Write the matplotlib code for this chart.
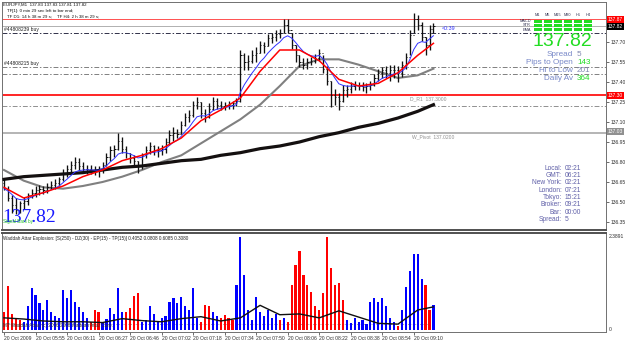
import numpy as np
import pandas as pd
import matplotlib
matplotlib.use("Agg")
import matplotlib.pyplot as plt
from matplotlib.patches import Rectangle

plt.rcParams['font.family'] = ['Liberation Sans', 'DejaVu Sans']

# EURJPY M1 bars (one entry ~ every 2 minutes)
high = [136.68, 136.62, 136.55, 136.53, 136.51, 136.54, 136.57, 136.60, 136.62, 136.63,
        136.62, 136.64, 136.66, 136.67, 136.69, 136.75, 136.78, 136.81, 136.84, 136.83,
        136.80, 136.78, 136.78, 136.77, 136.77, 136.80, 136.87, 136.92, 136.93, 137.02,
        136.99, 136.92, 136.87, 136.85, 136.81, 136.87, 136.92, 136.95, 136.93, 136.92,
        136.93, 136.98, 137.04, 137.06, 137.05, 137.11, 137.17, 137.19, 137.26, 137.29,
        137.25, 137.20, 137.24, 137.29, 137.28, 137.26, 137.25, 137.26, 137.26, 137.28,
        137.64, 137.62, 137.60, 137.64, 137.66, 137.71, 137.70, 137.76, 137.77, 137.79,
        137.80, 137.87, 137.87, 137.77, 137.68, 137.60, 137.58, 137.58, 137.59, 137.61,
        137.65, 137.60, 137.52, 137.41, 137.35, 137.32, 137.38, 137.38, 137.40, 137.41,
        137.40, 137.40, 137.39, 137.41, 137.46, 137.50, 137.51, 137.52, 137.53, 137.53,
        137.52, 137.56, 137.62, 137.79, 137.92, 137.90, 137.85, 137.74, 137.83, 137.84]
low = [136.59, 136.51, 136.42, 136.41, 136.42, 136.45, 136.48, 136.53, 136.54, 136.55,
       136.56, 136.57, 136.60, 136.60, 136.62, 136.66, 136.69, 136.72, 136.75, 136.74,
       136.72, 136.71, 136.71, 136.70, 136.69, 136.72, 136.77, 136.81, 136.84, 136.89,
       136.87, 136.83, 136.79, 136.77, 136.72, 136.75, 136.83, 136.86, 136.85, 136.84,
       136.85, 136.87, 136.93, 136.96, 136.98, 137.01, 137.07, 137.10, 137.14, 137.20,
       137.13, 137.10, 137.13, 137.19, 137.20, 137.19, 137.19, 137.20, 137.20, 137.22,
       137.25, 137.49, 137.49, 137.54, 137.55, 137.62, 137.62, 137.67, 137.69, 137.71,
       137.73, 137.77, 137.77, 137.65, 137.55, 137.51, 137.50, 137.50, 137.53, 137.54,
       137.56, 137.47, 137.38, 137.21, 137.23, 137.19, 137.25, 137.29, 137.32, 137.34,
       137.34, 137.33, 137.32, 137.34, 137.37, 137.41, 137.43, 137.43, 137.41, 137.43,
       137.40, 137.44, 137.50, 137.60, 137.77, 137.79, 137.71, 137.60, 137.64, 137.77]
close = [136.60, 136.53, 136.48, 136.44, 136.49, 136.51, 136.55, 136.57, 136.59, 136.60,
         136.59, 136.61, 136.63, 136.64, 136.67, 136.72, 136.75, 136.78, 136.80, 136.77,
         136.75, 136.75, 136.74, 136.73, 136.74, 136.78, 136.84, 136.89, 136.90, 136.96,
         136.90, 136.87, 136.83, 136.81, 136.78, 136.85, 136.89, 136.92, 136.89, 136.89,
         136.90, 136.95, 137.00, 137.02, 137.01, 137.08, 137.14, 137.15, 137.23, 137.25,
         137.17, 137.14, 137.20, 137.26, 137.23, 137.22, 137.23, 137.23, 137.24, 137.26,
         137.60, 137.55, 137.56, 137.60, 137.62, 137.68, 137.67, 137.73, 137.74, 137.76,
         137.77, 137.83, 137.79, 137.68, 137.60, 137.55, 137.53, 137.55, 137.56, 137.58,
         137.62, 137.50, 137.41, 137.30, 137.29, 137.26, 137.34, 137.35, 137.37, 137.38,
         137.37, 137.36, 137.37, 137.38, 137.43, 137.47, 137.49, 137.47, 137.49, 137.49,
         137.47, 137.53, 137.59, 137.75, 137.87, 137.83, 137.74, 137.68, 137.80, 137.82]

# moving averages, read every 5 bars
ma_idx = [0, 5, 10, 15, 20, 25, 30, 35, 40, 45, 50, 55, 60, 65, 70, 75, 80, 85, 90, 95, 100, 105, 109]
red_ma = [136.61, 136.53, 136.57, 136.62, 136.69, 136.74, 136.81, 136.85, 136.90, 136.98, 137.11, 137.19,
          137.28, 137.48, 137.64, 137.64, 137.56, 137.42, 137.37, 137.39, 137.47, 137.60, 137.69]
grey_ma = [136.74, 136.66, 136.61, 136.60, 136.62, 136.65, 136.69, 136.74, 136.80, 136.85, 136.94, 137.03,
           137.12, 137.23, 137.37, 137.52, 137.57, 137.57, 137.53, 137.48, 137.43, 137.45, 137.50]
black_ma = [136.67, 136.69, 136.70, 136.71, 136.72, 136.74, 136.76, 136.77, 136.79, 136.81, 136.82, 136.85,
            136.87, 136.90, 136.92, 136.95, 136.99, 137.02, 137.06, 137.09, 137.13, 137.18, 137.23]

# Waddah Attar Explosion histogram (1 = up/blue, 0 = down/red)
wae = [0.45, 1.12, 0.41, 0.30, 0.25, 0.20, 0.60, 1.07, 0.88, 0.67, 0.50, 0.75, 0.45, 0.35, 0.30, 1.01,
       0.80, 1.01, 0.70, 0.58, 0.45, 0.30, 0.20, 0.50, 0.45, 0.20, 0.28, 0.55, 0.40, 1.07, 0.45, 0.45,
       0.55, 0.85, 0.93, 0.20, 0.25, 0.60, 0.41, 0.20, 0.30, 0.35, 0.70, 0.80, 0.67, 0.84, 0.60, 0.50,
       1.07, 0.30, 0.20, 0.63, 0.60, 0.45, 0.35, 0.30, 0.37, 0.30, 0.25, 1.14, 2.36, 1.40, 0.50, 0.25,
       0.84, 0.45, 0.35, 0.50, 0.30, 0.41, 0.25, 0.30, 0.20, 1.14, 1.66, 2.00, 1.40, 1.14, 0.97, 0.60,
       0.50, 0.93, 2.36, 1.57, 1.14, 1.20, 0.75, 0.25, 0.17, 0.30, 0.20, 0.25, 0.15, 0.70, 0.80, 0.71,
       0.80, 0.60, 0.30, 0.20, 0.10, 0.50, 1.10, 1.50, 1.92, 1.92, 1.30, 1.14, 0.50, 0.63]
trend = [0, 0, 0, 0, 0, 1, 1, 1, 1, 1, 1, 1, 1, 1, 1, 1, 1, 1, 1, 1, 1, 1, 0, 0, 0, 1, 1, 1, 1, 1, 1, 0,
         0, 0, 0, 1, 1, 1, 1, 1, 1, 1, 1, 1, 1, 1, 1, 1, 1, 1, 0, 0, 0, 1, 1, 0, 0, 0, 0, 1, 1, 1, 1, 1,
         1, 1, 1, 1, 1, 1, 0, 1, 0, 0, 0, 0, 0, 0, 0, 0, 0, 0, 0, 0, 0, 0, 0, 1, 1, 1, 1, 1, 1, 1, 1, 1,
         1, 1, 1, 1, 0, 1, 1, 1, 1, 1, 1, 0, 0, 1]
signal = [0.30, 0.27, 0.22, 0.20, 0.20, 0.18, 0.28, 0.23, 0.20, 0.28, 0.33, 0.22, 0.30, 0.62, 0.38, 0.40,
          0.30, 0.48, 0.32, 0.16, 0.14, 0.50, 0.58]
dead_zone = 0.15
wae_max = 2.3891

time_labels = ["20 Oct 2009", "20 Oct 05:55", "20 Oct 06:11", "20 Oct 06:27", "20 Oct 06:46",
               "20 Oct 07:02", "20 Oct 07:18", "20 Oct 07:34", "20 Oct 07:50", "20 Oct 08:06",
               "20 Oct 08:22", "20 Oct 08:38", "20 Oct 08:54", "20 Oct 09:10"]
price_ticks = [136.35, 136.50, 136.65, 136.80, 136.95, 137.10, 137.25, 137.40, 137.55, 137.70]

W, H = 625, 341


def px_box(l, t, r, b):
    return [l / W, 1 - b / H, (r - l) / W, (b - t) / H]


fig = plt.figure(figsize=(W / 100, H / 100), dpi=100, facecolor='white')
ax = fig.add_axes(px_box(2, 2, 606, 230))
ax2 = fig.add_axes(px_box(2, 233, 606, 332), sharex=ax)

n = len(close)
idx = np.arange(n)
opn = np.r_[136.64, close[:-1]]

# price bars
ax.vlines(idx, low, high, colors='#101010', lw=0.95, zorder=5)
ax.hlines(opn, idx - 0.3, idx, colors='#101010', lw=0.7, zorder=5)
ax.hlines(close, idx, idx + 0.3, colors='#101010', lw=0.7, zorder=5)

blue_ma = pd.Series(close).ewm(span=7, adjust=False).mean()
ax.plot(idx, blue_ma, color='#3030ff', lw=0.7, zorder=6)
ax.plot(ma_idx, red_ma, color='#ff0000', lw=1.1, zorder=6)
ax.plot(ma_idx, grey_ma, color='#808080', lw=1.5, zorder=4)
ax.plot(ma_idx, black_ma, color='#141010', lw=2.3, zorder=4)

dd = (0, (5, 2, 1.5, 2))
ax.axhline(137.87, color='#ff5050', lw=0.7, zorder=2)
ax.axhline(137.82, color='#b0b0b0', lw=0.7, zorder=2)
ax.axhline(137.77, color='#303048', lw=0.7, ls=dd, zorder=2)
ax.axhline(137.515, color='#808080', lw=0.7, ls=dd, zorder=2)
ax.axhline(137.46, color='#808080', lw=0.7, ls=dd, zorder=2)
ax.axhline(137.30, color='#ff0000', lw=1.2, zorder=2)
ax.axhline(137.22, color='#909090', lw=0.7, ls=dd, zorder=2)
ax.axhline(137.02, color='#a8a8a8', lw=1.2, zorder=2)

ax.set_xlim(-0.51, 152.8)
ax.set_ylim(136.29, 138.00)
ax.yaxis.tick_right()
ax.set_yticks(price_ticks)
ax.set_yticklabels([f"{p:.2f}" for p in price_ticks])
ax.tick_params(axis='y', length=2, width=0.5, pad=1, labelsize=3.6, colors='#303030')
ax.tick_params(axis='x', bottom=False, labelbottom=False)

box_labels = [(137.87, '#ff0000'), (137.82, '#000000'), (137.30, '#ff0000'), (137.03, '#909090')]
for p, c in box_labels:
    ax.text(1.003, p, f"{p:.2f}", transform=ax.get_yaxis_transform(), fontsize=3.6,
            color='white', va='center', ha='left',
            bbox=dict(boxstyle='square,pad=0.2', fc=c, ec='none'))

ax.text(103, 137.29, "D_R1  137.3000", fontsize=3.6, color='#909090', va='top')
ax.text(103.5, 137.01, "W_Pivot  137.0200", fontsize=3.6, color='#909090', va='top')
ax.text(111, 137.80, "<0:39", fontsize=3.8, color='#3030ff', va='center')
ax.text(0, 137.775, "#44808239 buy", fontsize=3.6, color='#202020', va='bottom')
ax.text(0, 137.52, "#44808215 buy", fontsize=3.6, color='#202020', va='bottom')

# indicator panel
colors = ['#0000ff' if t else '#ff0000' for t in trend]
ax2.bar(idx, wae, width=0.55, color=colors, linewidth=0, zorder=3)
ax2.plot(ma_idx, signal, color='#101010', lw=1.0, zorder=4)
ax2.hlines(dead_zone, 0, n - 1, colors='#a0a0a0', lw=0.7, linestyles=(0, (1, 1.5)), zorder=2)
ax2.set_ylim(-0.061, 2.466)
ax2.set_yticks([])
ax2.set_xticks(idx[::8][:len(time_labels)])
ax2.set_xticklabels(time_labels, ha='left')
ax2.tick_params(axis='x', length=2, width=0.5, pad=1, labelsize=3.6, colors='#303030')
ax2.text(1.004, wae_max, "2.3891", transform=ax2.get_yaxis_transform(), fontsize=3.6,
         color='#303030', va='center')
ax2.text(1.004, 0, "0", transform=ax2.get_yaxis_transform(), fontsize=3.6,
         color='#303030', va='center')
ax2.text(0.002, 0.97, "Waddah Attar Explosion: [S(250) - DZ(30) - EP(15) - TP(15)] 0.4052 0.0808 0.6085 0.3080",
         transform=ax2.transAxes, fontsize=3.3, color='#202020', va='top')
ax2.text(0.002, 0.04, "MT Waddah Attar, (c) 2006-2008 Waddah Attar Corp.",
         transform=ax2.transAxes, fontsize=3.3, color='#303030', va='bottom')

for a in (ax, ax2):
    a.set_facecolor('white')
    for s in a.spines.values():
        s.set_color('#707070')
        s.set_linewidth(0.7)
ax.spines['bottom'].set_color('#505050')
ax.spines['bottom'].set_linewidth(1.4)
ax2.spines['top'].set_color('#505050')
ax2.spines['top'].set_linewidth(1.4)

# overlay in pixel coordinates for the on-chart text panels
ov = fig.add_axes([0, 0, 1, 1], zorder=10)
ov.set_xlim(0, W)
ov.set_ylim(H, 0)
ov.axis('off')
ov.patch.set_alpha(0)

ov.text(3, 5, "EURJPY,M1  137.83 137.83 137.81 137.82", fontsize=3.2, color='#101010', va='center')
ov.text(7, 11, "TF[1]: 0 min 29 sec left to bar end;", fontsize=3.2, color='#101010', va='center')
ov.text(7, 17, "TF D1: 14 h 38 m 29 s;    TF H4: 2 h 38 m 29 s;", fontsize=3.2, color='#101010', va='center')

tfs = ["M1", "M5", "M15", "M30", "H1", "H4"]
rows = ["MACD", "STR", "EMA"]
for j, tf in enumerate(tfs):
    x0 = 533.5 + 10 * j
    ov.text(x0 + 4.2, 15.5, tf, fontsize=2.8, color='#303050', ha='center', va='center')
    for k in range(len(rows)):
        ov.add_patch(Rectangle((x0, 19.5 + 4.3 * k), 8.5, 3.0, fc='#22dd22', ec='none'))
for k, r in enumerate(rows):
    ov.text(531, 21 + 4.3 * k, r, fontsize=2.8, color='#303050', ha='right', va='center')

ov.text(562, 41, "137.82", fontsize=14, color='#22dd22', ha='center', va='center')
stats = [("Spread", "5", '#8088b0'), ("Pips to Open", "143", '#22dd22'),
         ("Hi to Low", "201", '#8088b0'), ("Daily Av", "364", '#22dd22')]
for k, (lab, val, vc) in enumerate(stats):
    y = 54 + 8 * k
    ov.text(573, y, lab, fontsize=5.9, color='#7888c8', ha='right', va='center')
    ov.text(577, y, val, fontsize=5.9, color=vc, ha='left', va='center')

clock = [("Local:", "02:21"), ("GMT:", "06:21"), ("New York:", "02:21"), ("London:", "07:21"),
         ("Tokyo:", "15:21"), ("Broker:", "09:21"), ("Bar:", "00:00"), ("Spread:", "5")]
for k, (lab, val) in enumerate(clock):
    y = 168 + 7.4 * k
    ov.text(562, y, lab, fontsize=4.8, color='#6060a8', ha='right', va='center')
    ov.text(565, y, val, fontsize=4.8, color='#6060a8', ha='left', va='center')

ov.text(2, 217, "137.82", fontsize=14, color='#1a1aff', family=['Liberation Serif', 'DejaVu Serif'],
        ha='left', va='center')
ov.text(3, 222, "Signal Bars by", fontsize=3.3, color='#20c020', ha='left', va='center')

fig.savefig("out.png", dpi=100, facecolor='white')
